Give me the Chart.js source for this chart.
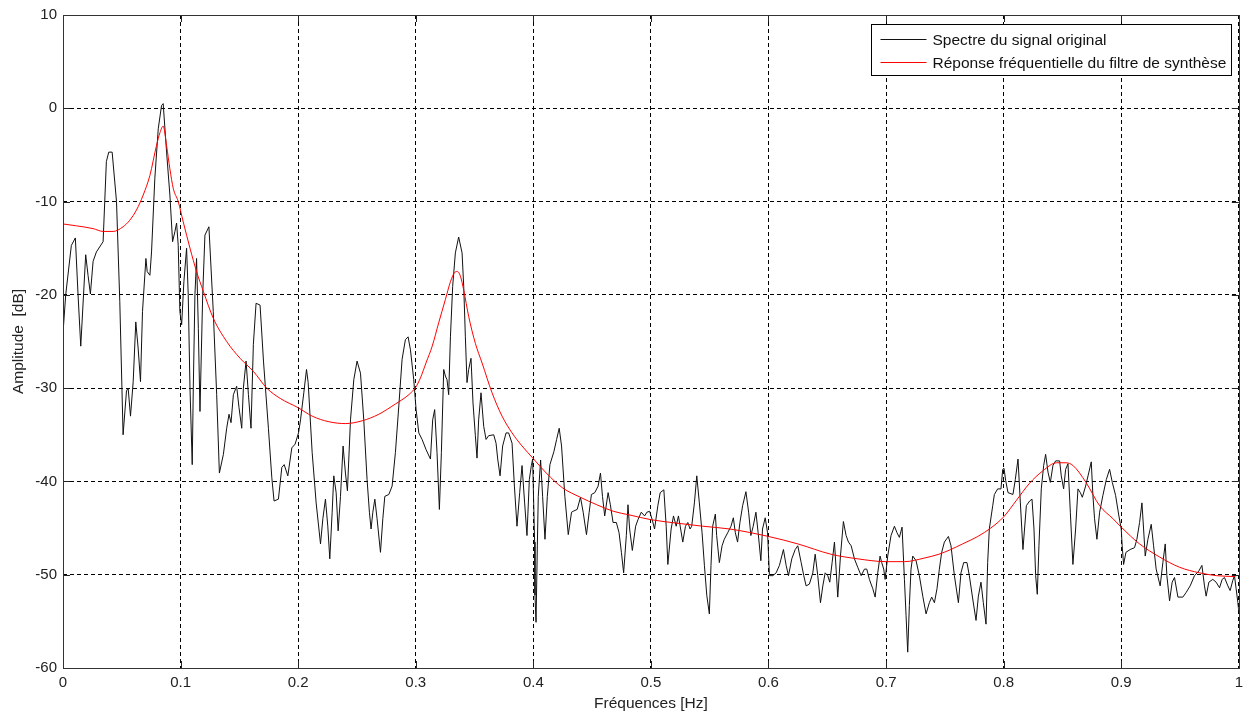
<!DOCTYPE html>
<html><head><meta charset="utf-8">
<script src="https://cdn.jsdelivr.net/npm/chart.js@4"></script>
<style>html,body{margin:0;padding:0;background:#fff;overflow:hidden}</style>
</head><body>
<canvas id="c" width="1249" height="715" style="display:block;width:1249px;height:715px"></canvas>
<script>
// ---- Data ----
const seriesNames = ['Spectre du signal original', 'Réponse fréquentielle du filtre de synthèse'];
const xTicks = [0, 0.1, 0.2, 0.3, 0.4, 0.5, 0.6, 0.7, 0.8, 0.9, 1];
const xTickLabels = ['0', '0.1', '0.2', '0.3', '0.4', '0.5', '0.6', '0.7', '0.8', '0.9', '1'];
const yTicks = [-60, -50, -40, -30, -20, -10, 0, 10];
const yTickLabels = ['-60', '-50', '-40', '-30', '-20', '-10', '0', '10'];
const xTitle = 'Fréquences [Hz]';
const yTitle = 'Amplitude  [dB]';

const freqSpectre = [
0,0.0023,0.0071,0.0105,0.0128,0.0151,0.0193,0.0213,0.0233,0.0256,0.0284,0.0341,0.0369,0.0389,0.0418,0.0455,0.0483,0.0511,0.054,0.0554,
0.0574,0.0597,0.0619,0.0639,0.0659,0.0676,0.0705,0.0716,0.0739,0.0753,0.0781,0.081,0.0838,0.0852,0.0881,0.0909,0.0932,0.0952,0.0966,0.098,
0.0994,0.1009,0.1028,0.1051,0.1065,0.108,0.1099,0.1108,0.1122,0.1136,0.1151,0.1165,0.1188,0.1207,0.1241,0.1278,0.1307,0.133,0.1364,0.1392,
0.1412,0.1429,0.1449,0.1477,0.1497,0.152,0.1534,0.1557,0.1577,0.1599,0.1619,0.1642,0.1676,0.1705,0.1747,0.1776,0.1795,0.1832,0.1861,0.1881,
0.1912,0.1946,0.1974,0.2003,
0.202,0.2048,0.2071,0.2085,0.2119,0.2153,0.219,0.221,0.2232,0.2252,0.2269,0.2289,0.2303,0.2323,0.234,0.236,0.2382,0.2402,0.2419,0.2445,
0.2473,0.2501,0.253,0.2558,0.2586,0.2606,0.262,0.2635,0.2652,0.2671,0.27,0.272,0.2737,0.2771,0.2799,0.2827,0.2856,0.2884,0.2912,0.2935,
0.2955,0.2983,0.3003,0.3026,0.3054,0.3088,0.3125,0.3144,0.3161,0.3181,0.3201,0.3218,0.3238,0.3252,0.3266,0.328,0.3295,0.3314,0.3337,0.3365,
0.3394,0.3408,0.3422,0.3436,0.345,0.347,0.3487,0.3507,0.3521,0.3535,0.3555,0.3578,0.3598,0.362,0.3663,0.3683,0.3697,0.3717,0.3739,0.3768,
0.379,0.3819,0.3839,0.3861,0.3884,0.3904,0.3926,0.3946,0.3966,0.3983,0.3994,0.4011,
0.4014,0.4023,0.4034,0.4042,0.4062,0.4079,0.4099,0.4119,0.4141,0.4175,0.4198,0.422,0.424,0.4268,0.4297,0.4325,0.4339,0.4373,0.4401,0.4424,
0.4452,0.4475,0.4494,0.4523,0.4551,0.4571,0.4588,0.4607,0.4636,0.4655,0.4678,0.4706,0.4729,0.4749,0.4768,0.4791,0.4805,0.4819,0.4842,0.487,
0.489,0.4918,0.4946,0.4966,0.4989,0.5011,0.5031,0.5059,0.5079,0.511,0.513,0.5144,0.5172,0.5192,0.5215,0.5234,0.5249,0.5271,0.5294,0.5314,
0.5333,0.5347,0.537,0.539,0.5412,0.5435,0.5455,0.5475,0.5497,0.5511,0.5525,0.5548,0.5559,0.5582,0.5605,0.5624,0.5653,0.5681,0.5701,0.5718,
0.5737,0.5757,0.578,0.5808,0.5831,0.585,0.587,0.5893,0.5912,0.5935,0.5949,0.5972,0.5992,
0.6008,0.6037,0.6065,0.6093,0.6127,0.615,0.617,0.6198,0.6227,0.6249,0.6278,0.63,0.632,0.6348,0.6377,0.6397,0.6419,0.6442,0.6462,0.6482,
0.6504,0.6521,0.6541,0.6561,0.6575,0.6589,0.6612,0.6637,0.666,0.668,0.6703,0.6731,0.6759,0.6788,0.6816,0.6836,0.6858,0.6887,0.6907,0.6929,
0.6949,0.6963,0.698,0.6992,0.7014,0.7042,0.7071,0.7093,0.7113,0.7136,0.7156,0.717,0.7184,0.7198,0.7212,0.7227,0.7255,0.7283,0.7312,0.734,
0.7368,0.7388,0.7411,0.7433,0.7453,0.7473,0.7496,0.753,0.7552,0.7581,0.7615,0.7637,0.766,0.7688,0.7708,0.7737,0.7765,0.7785,0.7807,0.7827,
0.785,0.7864,0.7878,0.7907,0.7921,0.7949,0.7977,0.7992,
0.8003,0.8017,0.8037,0.8079,0.8099,0.8122,0.8142,0.8164,0.8193,0.8221,0.8241,0.8258,0.8272,0.8286,0.83,0.832,0.834,0.8357,0.8377,0.8397,
0.8419,0.8442,0.8476,0.849,0.851,0.8527,0.8547,0.8567,0.8589,0.8612,0.8632,0.8652,0.8669,0.8697,0.8725,0.8745,0.8759,0.8773,0.8793,0.8816,
0.8844,0.8873,0.8901,0.8924,0.8952,0.898,0.9,0.9008,0.902,0.904,0.9076,0.9113,0.9133,0.9156,0.9176,0.919,0.9204,0.9227,0.9255,0.9275,
0.9297,0.9331,0.9354,0.9374,0.9388,0.9411,0.9433,0.9453,0.9482,0.9524,0.9552,0.9586,0.9623,0.966,0.9686,0.9708,0.9722,0.9745,0.9779,0.9807,
0.9836,0.9858,0.9878,0.9907,0.9926,0.9949,0.9963,0.9977,0.9992,1.0
];
const ampSpectre = [
-24.1,-20.0,-14.7,-13.9,-20.0,-25.5,-15.7,-17.9,-19.9,-16.4,-15.4,-14.3,-5.7,-4.7,-4.7,-10.0,-20.7,-35.0,-30.3,-30.0,
-33.0,-29.3,-22.9,-25.7,-29.3,-21.8,-16.1,-17.5,-17.9,-15.4,-7.5,-2.2,0.3,0.5,-4.7,-9.3,-14.3,-13.2,-12.3,-14.7,
-21.8,-23.2,-18.6,-15.0,-20.0,-30.0,-38.2,-30.0,-20.0,-16.1,-23.6,-32.5,-20.0,-13.6,-12.7,-21.8,-30.7,-39.1,-37.1,-34.3,
-32.8,-33.7,-30.7,-29.8,-32.1,-34.3,-30.0,-27.1,-30.7,-34.3,-25.3,-20.9,-21.1,-27.1,-34.3,-39.6,-42.1,-41.9,-38.5,-38.2,
-39.4,-36.4,-36.0,-34.8,
-33.4,-30.5,-28.0,-29.4,-36.9,-42.3,-46.7,-44.0,-41.9,-44.8,-48.3,-43.3,-39.4,-41.2,-45.3,-41.6,-36.2,-39.1,-41.0,-33.4,
-29.1,-27.1,-28.4,-33.4,-39.8,-43.3,-45.1,-43.3,-41.9,-44.0,-47.6,-44.0,-41.6,-41.4,-40.5,-36.9,-31.9,-26.9,-24.8,-24.5,
-25.9,-29.1,-32.3,-34.8,-35.5,-36.6,-37.6,-33.4,-32.3,-36.9,-43.0,-36.9,-28.0,-28.7,-29.1,-30.7,-24.5,-19.1,-15.5,-13.8,
-15.5,-19.1,-24.5,-29.4,-28.0,-26.8,-31.6,-35.1,-37.5,-33.4,-30.5,-34.1,-35.5,-35.1,-35.0,-35.9,-37.6,-39.4,-36.2,-34.8,
-34.8,-35.9,-40.5,-44.8,-41.2,-38.3,-42.3,-45.8,-39.8,-38.3,-37.6,-46.5,
-52.2,-55.1,-46.9,-41.6,-37.7,-41.6,-46.2,-41.6,-38.2,-36.8,-35.5,-34.3,-36.2,-41.6,-45.7,-43.3,-43.2,-43.0,-41.7,-43.3,
-45.7,-43.3,-41.4,-41.2,-40.5,-39.1,-41.6,-43.7,-41.2,-42.5,-44.4,-44.4,-45.5,-47.6,-49.8,-45.8,-42.5,-45.1,-47.4,-44.8,
-44.1,-43.3,-43.7,-43.3,-43.2,-44.1,-45.1,-42.6,-41.2,-40.9,-44.8,-48.9,-45.1,-43.7,-44.8,-43.7,-44.8,-46.5,-44.8,-44.4,
-45.1,-44.8,-42.3,-39.4,-42.3,-45.5,-49.0,-52.2,-54.2,-49.0,-44.8,-43.5,-45.8,-48.7,-46.9,-46.2,-45.5,-44.8,-43.9,-45.5,
-46.5,-44.4,-42.6,-41.1,-43.3,-45.8,-44.8,-43.3,-45.5,-48.5,-45.1,-43.9,-45.5,
-50.1,-50.1,-49.8,-49.0,-47.3,-49.0,-50.1,-48.3,-47.3,-46.9,-48.7,-50.1,-51.2,-51.0,-49.8,-47.8,-50.1,-53.0,-51.2,-49.8,
-50.1,-50.8,-48.7,-46.5,-49.4,-52.4,-48.0,-44.3,-45.8,-46.5,-46.9,-48.3,-49.2,-50.1,-49.4,-49.4,-50.5,-51.5,-52.4,-49.8,
-48.0,-48.7,-49.4,-50.5,-48.0,-45.8,-44.8,-45.5,-46.0,-44.9,-50.5,-54.4,-58.3,-53.3,-49.4,-48.0,-48.5,-50.1,-52.3,-54.2,
-53.0,-52.4,-53.0,-51.5,-49.4,-47.6,-46.5,-45.9,-46.9,-50.1,-53.0,-49.8,-48.7,-48.7,-50.1,-52.6,-54.9,-52.3,-50.8,-53.0,
-55.3,-48.7,-45.1,-42.6,-41.4,-40.8,-40.8,-38.7,
-38.6,-39.9,-41.2,-41.4,-39.8,-37.6,-42.3,-47.3,-42.6,-42.1,-41.9,-45.1,-50.1,-52.1,-46.9,-40.8,-38.3,-37.1,-39.0,-40.1,
-38.3,-37.8,-37.8,-39.4,-40.8,-38.7,-38.1,-43.3,-48.9,-45.1,-40.8,-41.2,-41.7,-40.5,-39.0,-37.9,-41.5,-44.0,-46.2,-43.3,
-41.5,-39.8,-38.7,-40.1,-41.5,-43.7,-45.1,-46.9,-48.9,-47.6,-47.3,-47.1,-46.2,-44.4,-42.3,-45.1,-48.0,-46.2,-44.6,-46.9,
-49.4,-51.2,-48.7,-46.7,-50.1,-52.8,-50.8,-50.3,-52.4,-52.4,-51.9,-51.2,-50.1,-49.6,-49.0,-51.2,-52.3,-50.8,-50.5,-50.8,
-51.4,-50.5,-50.3,-51.2,-51.7,-50.6,-50.1,-51.5,-53.0,-54.0
];

const freqFiltre = [
0,0.0114,0.0256,0.0341,0.0426,0.0511,0.0568,0.0625,0.0682,0.0739,0.0795,0.0825,0.0852,0.0881,0.0909,0.0938,0.098,0.1023,0.108,0.1136,
0.1193,0.1278,0.1392,0.1506,0.1619,0.1733,0.1847,0.2,0.2119,0.2261,0.2402,0.2544,0.2686,0.2827,0.29,0.295,0.3,0.304,0.309,0.314,
0.3195,0.3252,0.3295,0.3331,0.3354,0.338,0.3408,0.345,0.3507,0.3564,0.3649,0.3734,0.3819,0.3904,0.4003,0.411,0.425,0.44,0.454,0.468,
0.482,0.5,0.524,0.544,0.567,0.6,0.625,0.653,0.676,0.7,0.7156,0.733,0.745,0.755,0.765,0.778,0.789,0.8,0.811,0.822,
0.833,0.845,0.853,0.859,0.87,0.8816,0.893,0.9,0.9156,0.9326,0.9496,0.9666,0.981,0.997
];
const ampFiltre = [
-12.4,-12.6,-12.9,-13.2,-13.2,-12.7,-12.0,-10.9,-9.3,-7.2,-4.0,-2.6,-1.9,-4.0,-6.5,-8.6,-10.0,-12.2,-15.0,-17.5,
-19.6,-22.5,-25.0,-26.8,-28.2,-30.0,-31.1,-32.1,-33.0,-33.6,-33.8,-33.5,-32.8,-31.7,-31.1,-30.6,-29.9,-28.9,-27.2,-25.5,
-23.0,-20.5,-18.6,-17.6,-17.5,-18.0,-19.5,-22.3,-25.2,-27.3,-30.5,-33.0,-34.8,-36.2,-37.6,-39.1,-40.7,-41.7,-42.5,-43.2,
-43.6,-44.1,-44.5,-44.8,-45.1,-45.9,-46.7,-47.8,-48.3,-48.6,-48.6,-48.2,-47.8,-47.3,-46.7,-45.9,-45.0,-43.8,-42.0,-40.2,
-38.9,-38.0,-38.0,-38.3,-40.1,-42.6,-44.0,-44.9,-46.7,-48.1,-49.2,-49.8,-50.1,-50.2
];

// ---- Chart ----
const FONT = '"Liberation Sans", Arial, sans-serif';
const toPoints = (xs, ys) => xs.map((x, i) => ({x: x, y: ys[i]}));

const frameAndLegend = {
  id: 'frameAndLegend',
  afterDraw(chart) {
    const {ctx, chartArea: a, scales} = chart;
    ctx.save();
    // inner tick marks (all four sides)
    ctx.strokeStyle = '#222';
    ctx.lineWidth = 1;
    ctx.setLineDash([]);
    const tl = 7;
    ctx.beginPath();
    xTicks.forEach(v => {
      const px = Math.round(scales.x.getPixelForValue(v)) + 0.5;
      ctx.moveTo(px, a.bottom); ctx.lineTo(px, a.bottom - tl);
      ctx.moveTo(px, a.top); ctx.lineTo(px, a.top + tl);
    });
    yTicks.forEach(v => {
      const py = Math.round(scales.y.getPixelForValue(v)) + 0.5;
      ctx.moveTo(a.left, py); ctx.lineTo(a.left + tl, py);
      ctx.moveTo(a.right, py); ctx.lineTo(a.right - tl, py);
    });
    ctx.stroke();
    // frame
    ctx.strokeStyle = '#333';
    ctx.strokeRect(Math.round(a.left) + 0.5, Math.round(a.top) + 0.5,
                   Math.round(a.right - a.left), Math.round(a.bottom - a.top));
    // legend box
    const bx = Math.round(a.right) - 367.5, by = Math.round(a.top) + 9.5, bw = 360, bh = 51;
    ctx.fillStyle = '#fff';
    ctx.fillRect(bx, by, bw, bh);
    ctx.strokeStyle = '#000';
    ctx.strokeRect(bx, by, bw, bh);
    ctx.font = '15.5px ' + FONT;
    ctx.textBaseline = 'middle';
    ctx.textAlign = 'left';
    chart.data.datasets.forEach((ds, i) => {
      const yy = Math.round(by + 14 + i * 23) + 0.5;
      ctx.strokeStyle = ds.borderColor;
      ctx.lineWidth = 1;
      ctx.beginPath();
      ctx.moveTo(bx + 9, yy); ctx.lineTo(bx + 55, yy);
      ctx.stroke();
      ctx.fillStyle = '#111';
      ctx.fillText(ds.label, bx + 61, yy + 1);
    });
    ctx.restore();
  }
};

new Chart(document.getElementById('c'), {
  type: 'line',
  data: {
    datasets: [
      {label: seriesNames[0], data: toPoints(freqSpectre, ampSpectre), borderColor: '#111', borderWidth: 1,
       pointRadius: 0, tension: 0, order: 1},
      {label: seriesNames[1], data: toPoints(freqFiltre, ampFiltre), borderColor: '#ff0000', borderWidth: 1,
       pointRadius: 0, cubicInterpolationMode: 'monotone', order: 0}
    ]
  },
  options: {
    responsive: false,
    animation: false,
    devicePixelRatio: 1,
    layout: {padding: {top: 15, right: 9, left: 0, bottom: 0}},
    plugins: {legend: {display: false}, tooltip: {enabled: false}},
    scales: {
      x: {
        type: 'linear', min: 0, max: 1,
        afterBuildTicks: s => { s.ticks = xTicks.map(v => ({value: v})); },
        afterFit: s => { s.height = 47; },
        ticks: {
          callback: (v, i) => xTickLabels[i],
          font: {family: FONT, size: 15}, color: '#222', padding: 6, maxRotation: 0, autoSkip: false
        },
        grid: {color: '#000', lineWidth: 1, drawTicks: false},
        border: {display: false, dash: [4, 3]},
        title: {display: true, text: xTitle, font: {family: FONT, size: 15.5}, color: '#222', padding: 2}
      },
      y: {
        type: 'linear', min: -60, max: 10,
        afterBuildTicks: s => { s.ticks = yTicks.map(v => ({value: v})); },
        afterFit: s => { s.width = 63; },
        ticks: {
          callback: (v, i) => yTickLabels[i],
          font: {family: FONT, size: 15}, color: '#222', padding: 6, autoSkip: false
        },
        grid: {color: '#000', lineWidth: 1, drawTicks: false},
        border: {display: false, dash: [4, 3]},
        title: {display: true, text: yTitle, font: {family: FONT, size: 15.5}, color: '#222', padding: 9}
      }
    }
  },
  plugins: [frameAndLegend]
});
</script>
</body></html>
